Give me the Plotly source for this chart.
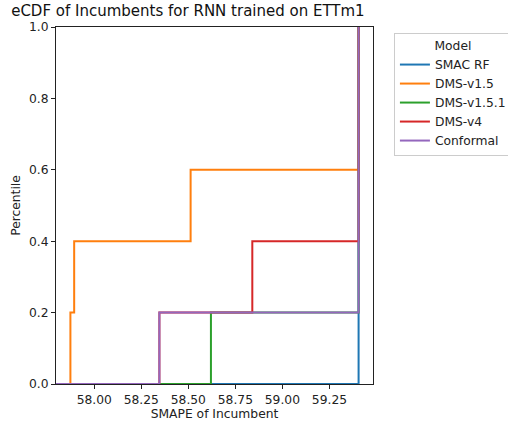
import plotly.graph_objects as go

# Incumbent SMAPE values per optimiser (5 runs each)
models = ["SMAC RF", "DMS-v1.5", "DMS-v1.5.1", "DMS-v4", "Conformal"]
smac_rf = [59.405, 59.405, 59.405, 59.405, 59.405]
dms_v15 = [57.873, 57.893, 58.512, 59.405, 59.405]
dms_v151 = [58.62, 59.405, 59.405, 59.405, 59.405]
dms_v4 = [58.346, 58.84, 59.405, 59.405, 59.405]
conformal = [58.346, 59.405, 59.405, 59.405, 59.405]
series = [smac_rf, dms_v15, dms_v151, dms_v4, conformal]
colors = ["#1f77b4", "#ff7f0e", "#2ca02c", "#d62728", "#9467bd"]

x_ticks = [58.00, 58.25, 58.50, 58.75, 59.00, 59.25]
y_ticks = [0.0, 0.2, 0.4, 0.6, 0.8, 1.0]

all_vals = [v for s in series for v in s]
lo, hi = min(all_vals), max(all_vals)
pad = 0.05 * (hi - lo)
x_range = [lo - pad, hi + pad]

fig = go.Figure()
for name, vals, col in zip(models, series, colors):
    xs = sorted(vals)
    n = len(xs)
    # empirical CDF as a post-step line starting at 0 on the left edge
    px = [x_range[0] - 1.0] + xs
    py = [0.0] + [(i + 1) / n for i in range(n)]
    fig.add_trace(go.Scatter(x=px, y=py, mode="lines", name=name,
                             line=dict(color=col, width=2, shape="hv")))

font = "DejaVu Sans"
base = 12.3
fig.update_layout(
    width=508, height=426,
    margin=dict(l=56, r=135, t=27, b=42, autoexpand=False),
    paper_bgcolor="white", plot_bgcolor="white",
    font=dict(family=font, size=base, color="#222"),
    title=dict(text="eCDF of Incumbents for RNN trained on ETTm1",
               x=0.022, xanchor="left", y=0.988, yanchor="top",
               font=dict(size=15, color="#111")),
    showlegend=True,
    legend=dict(x=1.066, xanchor="left", y=0.983, yanchor="top",
                bordercolor="#cccccc", borderwidth=1,
                title=dict(text="Model", side="top center",
                           font=dict(size=base)),
                font=dict(size=base), tracegroupgap=0, itemwidth=30),
)
fig.update_xaxes(range=x_range, tickvals=x_ticks, tickformat=".2f",
                 showgrid=False, zeroline=False, showline=True, mirror=True,
                 linecolor="#222", linewidth=1, ticks="outside", ticklen=4,
                 tickcolor="#222",
                 title=dict(text="SMAPE of Incumbent", standoff=3,
                            font=dict(size=base)))
fig.update_yaxes(range=[0, 1], tickvals=y_ticks, tickformat=".1f",
                 showgrid=False, zeroline=False, showline=True, mirror=True,
                 linecolor="#222", linewidth=1, ticks="outside", ticklen=4,
                 tickcolor="#222",
                 title=dict(text="Percentile", standoff=5,
                            font=dict(size=base)))

fig.write_html("out.html")
